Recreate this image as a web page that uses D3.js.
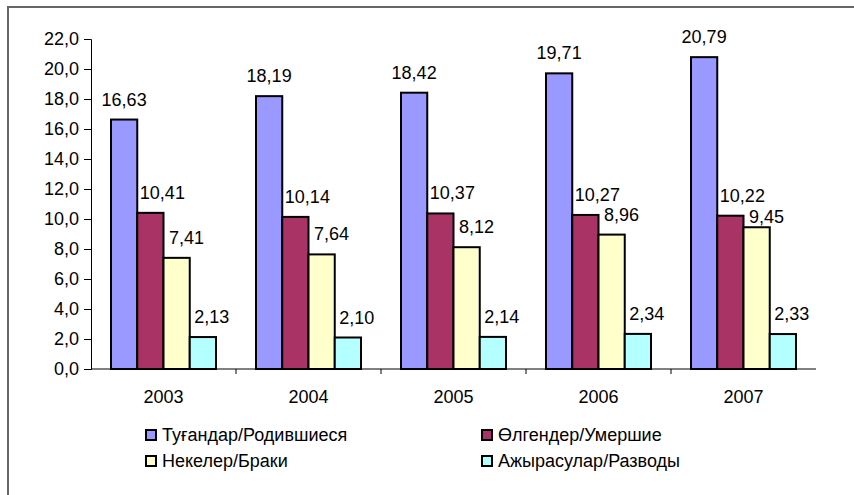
<!DOCTYPE html>
<html>
<head>
<meta charset="utf-8">
<script src="https://cdn.jsdelivr.net/npm/d3@7"></script>
<style>
  html, body { margin: 0; padding: 0; background: #fff; }
  svg { display: block; font-family: "Liberation Sans", Arial, sans-serif; }
</style>
</head>
<body>
<svg id="chart" width="854" height="495"></svg>
<script>
// chart data
const years = ['2003', '2004', '2005', '2006', '2007'];
const seriesNames = ['Туғандар/Родившиеся', 'Өлгендер/Умершие', 'Некелер/Браки', 'Ажырасулар/Разводы'];
const births = [16.63, 18.19, 18.42, 19.71, 20.79];
const deaths = [10.41, 10.14, 10.37, 10.27, 10.22];
const marriages = [7.41, 7.64, 8.12, 8.96, 9.45];
const divorces = [2.13, 2.10, 2.14, 2.34, 2.33];
const yTicks = [0, 2, 4, 6, 8, 10, 12, 14, 16, 18, 20, 22];

const colors = ['#9999FF', '#AA3366', '#FFFFCC', '#B4FFFF'];
// value labels of the smaller series sit a bit to the right, as in the original
const labelShift = [0, 12, 10, 9];
const values = [births, deaths, marriages, divorces];

const svg = d3.select('#chart');
const fontSize = 18;
const fmt = v => v.toFixed(2).replace('.', ',');
const fmtAxis = v => v.toFixed(1).replace('.', ',');

// outer frame (only top and left visible in the picture)
svg.append('path')
  .attr('d', 'M8,495 V7 H854')
  .attr('fill', 'none')
  .attr('stroke', '#666')
  .attr('stroke-width', 2);

// plot area
const plotLeft = 91, plotRight = 816, plotTop = 39, plotBottom = 369;

const x0 = d3.scaleBand().domain(years).range([plotLeft, plotRight]);
const x1 = d3.scaleBand().domain(d3.range(seriesNames.length))
  .range([20, x0.bandwidth() - 20]);
const y = d3.scaleLinear().domain([0, 22]).range([plotBottom, plotTop]);

// y axis
const yAxis = svg.append('g')
  .attr('transform', `translate(${plotLeft},0)`)
  .call(d3.axisLeft(y).tickValues(yTicks).tickFormat(fmtAxis).tickSize(7).tickPadding(5));
yAxis.select('.domain').attr('stroke', '#000');
yAxis.selectAll('.tick line').attr('stroke', '#000');
yAxis.selectAll('text')
  .attr('font-size', fontSize)
  .attr('font-family', '"Liberation Sans", Arial, sans-serif')
  .attr('fill', '#000');

// bars
const groups = svg.append('g').selectAll('g')
  .data(years)
  .join('g')
  .attr('transform', d => `translate(${x0(d)},0)`);

groups.selectAll('rect')
  .data((d, i) => values.map((s, k) => ({ k, v: s[i] })))
  .join('rect')
  .attr('x', d => x1(d.k))
  .attr('y', d => y(d.v))
  .attr('width', x1.bandwidth())
  .attr('height', d => y(0) - y(d.v))
  .attr('fill', d => colors[d.k])
  .attr('stroke', '#000')
  .attr('stroke-width', 2);

// value labels; a label that would run into its neighbour drops down onto its bar
groups.selectAll('text')
  .data((d, i) => values.map((s, k) => ({ k, v: s[i] })))
  .join('text')
  .attr('x', d => x1(d.k) + x1.bandwidth() / 2 + labelShift[d.k])
  .attr('y', d => y(d.v) - 14)
  .attr('text-anchor', 'middle')
  .attr('font-size', fontSize)
  .attr('fill', '#000')
  .text(d => fmt(d.v));

groups.each(function () {
  const texts = d3.select(this).selectAll('text').nodes();
  for (let k = 1; k < texts.length; k++) {
    const a = texts[k - 1].getBBox(), b = texts[k].getBBox();
    const overlapX = b.x < a.x + a.width && a.x < b.x + b.width;
    const ya = +texts[k - 1].getAttribute('y'), yb = +texts[k].getAttribute('y');
    if (overlapX && Math.abs(yb - ya) < 13) {
      const d = d3.select(texts[k]).datum();
      d3.select(texts[k]).attr('y', y(d.v) - 4);
    }
  }
});

// x axis with ticks between categories
svg.append('line')
  .attr('x1', plotLeft).attr('x2', plotRight)
  .attr('y1', plotBottom).attr('y2', plotBottom)
  .attr('stroke', '#000');
svg.append('g').selectAll('line')
  .data(years.slice(1))
  .join('line')
  .attr('x1', d => x0(d)).attr('x2', d => x0(d))
  .attr('y1', plotBottom).attr('y2', plotBottom + 5)
  .attr('stroke', '#000');
svg.append('g').selectAll('text')
  .data(years)
  .join('text')
  .attr('x', d => x0(d) + x0.bandwidth() / 2)
  .attr('y', 403)
  .attr('text-anchor', 'middle')
  .attr('font-size', fontSize)
  .text(d => d);

// legend, two columns
const legend = svg.append('g').selectAll('g')
  .data(seriesNames)
  .join('g')
  .attr('transform', (d, i) => `translate(${i % 2 === 0 ? 146 : 482},${i < 2 ? 430 : 456})`);
legend.append('rect')
  .attr('width', 10).attr('height', 10)
  .attr('fill', (d, i) => colors[i])
  .attr('stroke', '#000')
  .attr('stroke-width', 2);
legend.append('text')
  .attr('x', 16)
  .attr('y', 11)
  .attr('font-size', fontSize)
  .text(d => d);
</script>
</body>
</html>
